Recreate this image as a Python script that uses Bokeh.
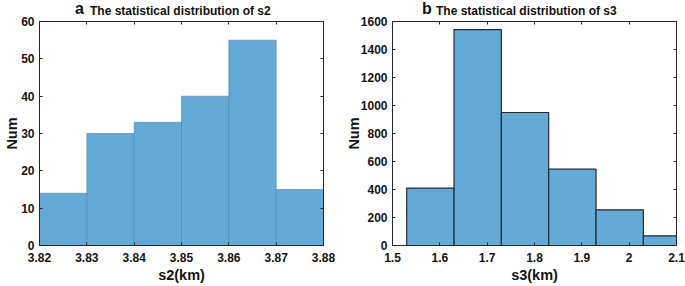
from bokeh.plotting import figure
from bokeh.models import Range1d, LinearAxis, FixedTicker, Div
from bokeh.layouts import row, column
from bokeh.embed import file_html
from bokeh.resources import INLINE

# ---- data ----
s2_edges = [3.82, 3.83, 3.84, 3.85, 3.86, 3.87, 3.88]
s2_counts = [14, 30, 33, 40, 55, 15]
s2_xticks = [3.82, 3.83, 3.84, 3.85, 3.86, 3.87, 3.88]
s2_xlabels = ["3.82", "3.83", "3.84", "3.85", "3.86", "3.87", "3.88"]
s2_yticks = [0, 10, 20, 30, 40, 50, 60]

s3_edges = [1.53, 1.63, 1.73, 1.83, 1.93, 2.03, 2.13]
s3_counts = [410, 1542, 950, 545, 255, 69]
s3_xticks = [1.5, 1.6, 1.7, 1.8, 1.9, 2.0, 2.1]
s3_xlabels = ["1.5", "1.6", "1.7", "1.8", "1.9", "2", "2.1"]
s3_yticks = [0, 200, 400, 600, 800, 1000, 1200, 1400, 1600]

FONT = "Liberation Sans"
AX = "#262626"
FILL = "#65a9d7"
TOP = 21      # frame top in page pixels
OVER = 10     # figure starts this many pixels above the frame


def style_axis(ax, ticks, labels=None, show=True):
    ax.ticker = FixedTicker(ticks=ticks)
    ax.major_tick_in = 3
    ax.major_tick_out = 0
    ax.minor_tick_line_color = None
    ax.axis_line_color = AX
    ax.major_tick_line_color = AX
    ax.major_label_text_font = FONT
    ax.major_label_text_font_style = "bold"
    if labels is not None:
        ax.major_label_overrides = {t: l for t, l in zip(ticks, labels)}
    if show:
        ax.major_label_text_font_size = "12px"
        ax.major_label_text_color = "#141414"
    else:
        ax.major_label_text_font_size = "0px"
        ax.major_label_text_color = None
        ax.major_label_standoff = 0
    ax.axis_label_text_font = FONT
    ax.axis_label_text_font_style = "bold"
    ax.axis_label_text_font_size = "14.5px"
    ax.axis_label_text_color = "#141414"


def make_panel(edges, counts, xr, yr, xticks, xlabels, yticks, xlabel,
               width, bl, br, edge_color, edge_alpha, edge_width, ylabel_standoff):
    p = figure(width=width, height=286 - TOP + OVER, output_backend="svg",
               toolbar_location=None, x_range=Range1d(*xr), y_range=Range1d(*yr),
               min_border_left=bl, min_border_right=br, min_border_top=OVER,
               min_border_bottom=41, x_axis_label=xlabel, y_axis_label="Num",
               margin=(-OVER, 0, 0, 0))
    p.xgrid.visible = False
    p.ygrid.visible = False
    p.outline_line_color = None
    p.border_fill_alpha = 0
    p.background_fill_color = "white"
    p.quad(left=edges[:-1], right=edges[1:], top=counts, bottom=0,
           fill_color=FILL, line_color=edge_color, line_alpha=edge_alpha,
           line_width=edge_width)
    style_axis(p.xaxis[0], xticks, xlabels)
    style_axis(p.yaxis[0], yticks, [str(v) for v in yticks])
    p.xaxis[0].major_label_standoff = 7
    p.xaxis[0].axis_label_standoff = 2
    p.yaxis[0].major_label_standoff = 5
    p.yaxis[0].axis_label_standoff = ylabel_standoff
    top = LinearAxis()
    style_axis(top, xticks, show=False)
    p.add_layout(top, "above")
    right = LinearAxis()
    style_axis(right, yticks, show=False)
    p.add_layout(right, "right")
    return p


def title_div(letter, title, width, letter_x, title_x):
    html = (
        f'<div style="position:relative;width:{width}px;height:{TOP}px;'
        f"font-family:'{FONT}',Arial,sans-serif;font-weight:bold;color:#111;\">"
        f'<span style="position:absolute;left:{letter_x}px;top:0px;'
        f'font-size:16px;line-height:18px;white-space:nowrap;">{letter}</span>'
        f'<span style="position:absolute;left:{title_x}px;top:4px;'
        f'font-size:12px;line-height:14px;white-space:nowrap;">{title}</span>'
        f"</div>"
    )
    return Div(text=html, width=width, height=TOP, margin=0)


pa = make_panel(s2_edges, s2_counts, (3.82, 3.88), (0, 60), s2_xticks, s2_xlabels,
                s2_yticks, "s2(km)", 340, 39, 17, "#4f86b0", 0.6, 1, -2)
pb = make_panel(s3_edges, s3_counts, (1.5, 2.1), (0, 1600), s3_xticks, s3_xlabels,
                s3_yticks, "s3(km)", 345, 52, 9, "#1f2b35", 1.0, 1.2, -4)
ta = title_div("a", "The statistical distribution of s2", 340, 75, 90)
tb = title_div("b", "The statistical distribution of s3", 345, 82, 96)

layout = row(column(ta, pa, spacing=0), column(tb, pb, spacing=0), spacing=0)
open("out.html", "w").write(file_html(layout, INLINE))
